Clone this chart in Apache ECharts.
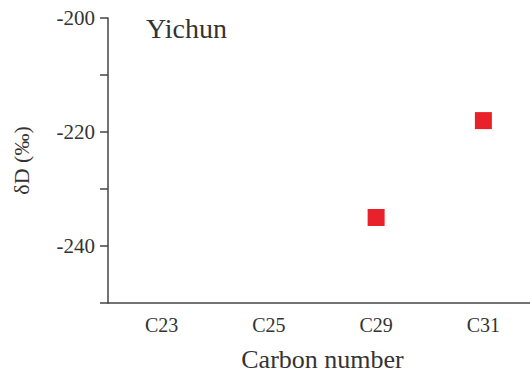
<!DOCTYPE html>
<html>
<head>
<meta charset="utf-8">
<script src="https://cdn.jsdelivr.net/npm/echarts@6/dist/echarts.min.js"></script>
<style>
  html, body { margin: 0; padding: 0; background: #fff; }
  #chart { width: 530px; height: 372px; }
</style>
</head>
<body>
<div id="chart"></div>
<script>
// Carbon-number categories along the x axis
const categories = ['C23', 'C25', 'C29', 'C31'];
// δD values (‰) per chain length; null where no measurement exists
const deltaD = [null, null, -235, -218];
// Y-axis range and the labelled ticks
const yMin = -250;
const yMax = -200;
const yStep = 10;
const yLabelled = [-200, -220, -240];
const siteName = 'Yichun';
const xName = 'Carbon number';
const yName = 'δD (‰)';

const FONT = 'Liberation Serif';
const TEXT = '#333';
const LINE = '#444';

const chart = echarts.init(document.getElementById('chart'), null, { renderer: 'svg' });

chart.setOption({
  animation: false,
  title: {
    text: siteName,
    left: 141,
    top: 9,
    textStyle: { fontFamily: FONT, fontSize: 28, fontWeight: 'normal', color: TEXT }
  },
  grid: { left: 108, right: -7, top: 18, bottom: 69, outerBoundsMode: 'none' },
  xAxis: {
    type: 'category',
    data: categories,
    boundaryGap: true,
    name: xName,
    nameLocation: 'middle',
    nameGap: 43,
    nameTextStyle: { fontFamily: FONT, fontSize: 26, color: TEXT },
    axisLine: { lineStyle: { color: LINE, width: 1.5 } },
    axisTick: { alignWithLabel: true, length: 7, lineStyle: { color: LINE, width: 1.5 } },
    axisLabel: { interval: 0, margin: 12, fontFamily: FONT, fontSize: 20, color: TEXT },
    splitLine: { show: false }
  },
  yAxis: {
    type: 'value',
    min: yMin,
    max: yMax,
    interval: yStep,
    name: yName,
    nameLocation: 'middle',
    nameGap: 76,
    nameTextStyle: { fontFamily: FONT, fontSize: 22, color: TEXT },
    axisLine: { show: true, lineStyle: { color: LINE, width: 1.5 } },
    axisTick: { show: true, length: 8, lineStyle: { color: LINE, width: 1.5 } },
    axisLabel: {
      margin: 13,
      fontFamily: FONT,
      fontSize: 21,
      color: TEXT,
      formatter: v => (yLabelled.indexOf(v) >= 0 ? String(v) : '')
    },
    splitLine: { show: false }
  },
  series: [{
    type: 'scatter',
    data: deltaD,
    symbol: 'rect',
    symbolSize: 17,
    itemStyle: { color: '#e8212b', opacity: 1 }
  }]
});
</script>
</body>
</html>
